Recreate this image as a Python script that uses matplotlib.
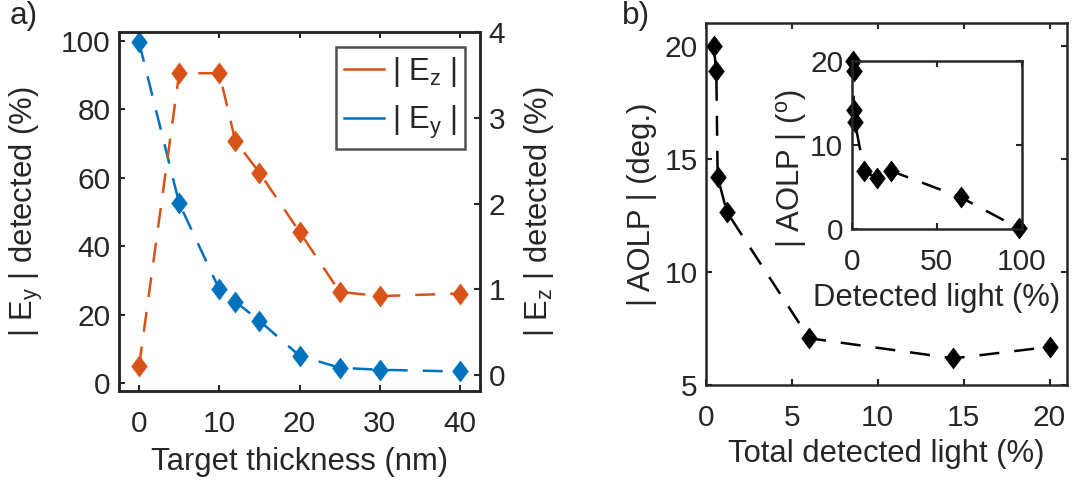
import matplotlib
matplotlib.use("Agg")
import matplotlib.pyplot as plt
from matplotlib.lines import Line2D
from matplotlib.path import Path

# ---- data -------------------------------------------------------------
thickness_nm = [0, 5, 10, 12, 15, 20, 25, 30, 40]
ey_detected = [99.5, 52.5, 27.4, 23.8, 18.2, 8.0, 4.5, 3.9, 3.4]
ez_detected = [0.10, 3.52, 3.52, 2.73, 2.36, 1.67, 0.97, 0.92, 0.95]

total_light = [0.45, 0.60, 0.68, 1.22, 6.0, 14.4, 20.05]
aolp_deg = [20.0, 18.87, 14.2, 12.65, 7.07, 6.18, 6.69]

inset_light = [0.9, 1.1, 1.2, 1.9, 7.4, 14.7, 22.9, 64.1, 98.4]
inset_aolp = [20.0, 18.8, 14.1, 12.7, 6.95, 6.05, 6.95, 3.8, 0.12]

x_ticks_a = [0, 10, 20, 30, 40]
y_ticks_ey = [0, 20, 40, 60, 80, 100]
y_ticks_ez = [0, 1, 2, 3, 4]
x_ticks_b = [0, 5, 10, 15, 20]
y_ticks_b = [5, 10, 15, 20]
x_ticks_in = [0, 50, 100]
y_ticks_in = [0, 10, 20]

# ---- style ------------------------------------------------------------
RED = "#D95319"
BLUE = "#0072BD"
INK = "#262626"
FS = 22.3      # axis labels / legend
TFS = 21.5     # tick labels
plt.rcParams["font.family"] = ["Liberation Sans", "DejaVu Sans"]
plt.rcParams["mathtext.fontset"] = "custom"
plt.rcParams["mathtext.rm"] = "Liberation Sans"
plt.rcParams["mathtext.it"] = "Liberation Sans:italic"
plt.rcParams["font.size"] = FS
plt.rcParams["text.color"] = INK
plt.rcParams["axes.labelcolor"] = INK

# tall diamond marker
diamond = Path([(0, 1), (0.75, 0), (0, -1), (-0.75, 0), (0, 1)],
               [Path.MOVETO, Path.LINETO, Path.LINETO, Path.LINETO, Path.CLOSEPOLY])
DASH = (0, (8, 6))
LW = 1.8
MS = 15


def style_axes(ax, lw=1.8):
    for s in ax.spines.values():
        s.set_linewidth(lw)
        s.set_color(INK)
    ax.tick_params(direction="in", length=4, width=1.5, colors=INK,
                   labelsize=TFS)
    ax.tick_params(axis="x", pad=13.5)
    ax.tick_params(axis="y", pad=6)


fig = plt.figure(figsize=(10.79, 4.84), dpi=100)

# ---- panel a ----------------------------------------------------------
ax = fig.add_axes([0.1103, 0.1921, 0.3346, 0.7417])
ax2 = ax.twinx()
style_axes(ax)
style_axes(ax2)

ax.plot(thickness_nm, ey_detected, linestyle=DASH, color=BLUE, lw=LW,
        marker=diamond, ms=MS, mfc=BLUE, mec=BLUE, mew=0.5, clip_on=False)
ax2.plot(thickness_nm, ez_detected, linestyle=DASH, color=RED, lw=LW,
         marker=diamond, ms=MS, mfc=RED, mec=RED, mew=0.5, clip_on=False)

ax.set_xlim(-2.5, 42.5)
ax.set_ylim(-2.3, 102.5)
ax2.set_ylim(-0.187, 4.0)
ax.set_xticks(x_ticks_a)
ax.set_yticks(y_ticks_ey)
ax2.set_yticks(y_ticks_ez)
ax.tick_params(axis="x", top=True)
ax.tick_params(axis="y", right=False)
ax2.tick_params(axis="y", left=False, right=True)

ax.set_xlabel("Target thickness (nm)", fontsize=FS, labelpad=7)
ax.set_ylabel(r"| E$_{\mathrm{y}}$ | detected (%)", fontsize=FS)
ax.yaxis.set_label_coords(-0.205, 0.5)
ax2.set_ylabel(r"| E$_{\mathrm{z}}$ | detected (%)", fontsize=FS)
ax2.yaxis.set_label_coords(1.115, 0.5)

handles = [Line2D([], [], color=RED, lw=LW), Line2D([], [], color=BLUE, lw=LW)]
leg = ax2.legend(handles, [r"| E$_{\mathrm{z}}$ |", r"| E$_{\mathrm{y}}$ |"],
                 loc="upper right", bbox_to_anchor=(0.958, 0.959),
                 fontsize=FS, frameon=True, fancybox=False, handlelength=1.3,
                 handletextpad=0.25, borderpad=0.25, labelspacing=0.5,
                 borderaxespad=0)
leg.get_frame().set_edgecolor(INK)
leg.get_frame().set_linewidth(1.8)

fig.text(0.009, 0.997, "a)", fontsize=FS + 0.5, ha="left", va="top")

# ---- panel b ----------------------------------------------------------
bx = fig.add_axes([0.6543, 0.2045, 0.3343, 0.7473])
style_axes(bx)
bx.plot(total_light, aolp_deg, linestyle=DASH, color="black", lw=LW,
        marker=diamond, ms=MS, mfc="black", mec="black", mew=0.5, clip_on=False)
bx.set_xlim(0, 21)
bx.set_ylim(5, 21)
bx.set_xticks(x_ticks_b)
bx.set_yticks(y_ticks_b)
bx.tick_params(top=True, right=True)
bx.set_xlabel("Total detected light (%)", fontsize=FS, labelpad=5)
bx.set_ylabel("| AOLP | (deg.)", fontsize=FS)
bx.yaxis.set_label_coords(-0.135, 0.5)

fig.text(0.576, 0.997, "b)", fontsize=FS + 0.5, ha="left", va="top")

# inset
ix = fig.add_axes([0.7893, 0.5262, 0.1576, 0.3483])
style_axes(ix)
ix.plot(inset_light, inset_aolp, linestyle=DASH, color="black", lw=LW,
        marker=diamond, ms=MS, mfc="black", mec="black", mew=0.5, clip_on=False)
ix.set_xlim(0, 100)
ix.set_ylim(0, 20)
ix.set_xticks(x_ticks_in)
ix.set_yticks(y_ticks_in)
ix.tick_params(top=True, right=True)
ix.set_xlabel("Detected light (%)", fontsize=FS, labelpad=5)
ix.set_ylabel(r"| AOLP | ($^{\mathrm{o}}$)", fontsize=FS)
ix.yaxis.set_label_coords(-0.25, 0.36)

fig.savefig("out.png", dpi=100)
